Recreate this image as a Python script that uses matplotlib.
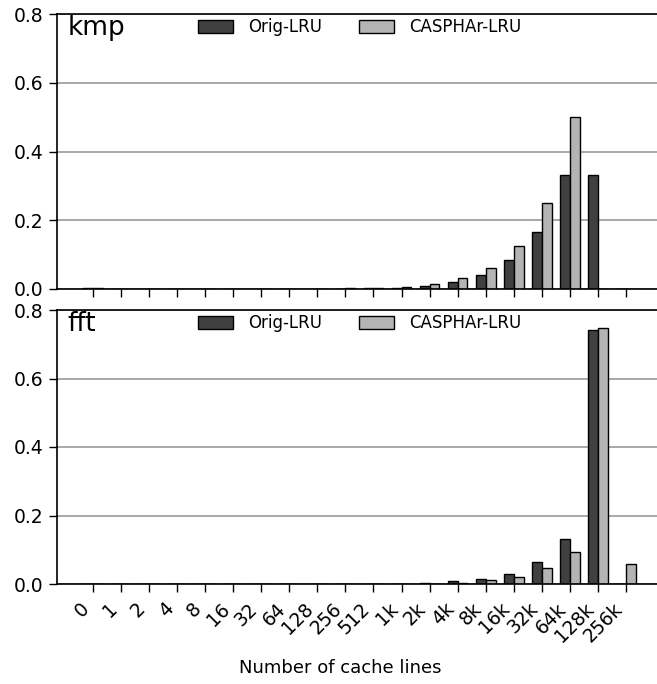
import matplotlib
matplotlib.use('Agg')
import matplotlib.pyplot as plt
import numpy as np

# cache size buckets (x axis)
sizes = ['0', '1', '2', '4', '8', '16', '32', '64', '128', '256', '512',
         '1k', '2k', '4k', '8k', '16k', '32k', '64k', '128k', '256k']

# kmp distribution
kmp_orig = [0.003, 0, 0, 0, 0, 0, 0, 0, 0, 0, 0.003, 0.003, 0.010, 0.021,
            0.041, 0.083, 0.167, 0.333, 0.333, 0]
kmp_casphar = [0.003, 0, 0, 0, 0, 0, 0, 0, 0, 0.002, 0.003, 0.007, 0.016, 0.031,
               0.061, 0.124, 0.25, 0.5, 0, 0]

# fft distribution
fft_orig = [0, 0, 0, 0, 0, 0, 0, 0, 0, 0, 0, 0, 0.004, 0.009,
            0.016, 0.030, 0.065, 0.130, 0.741, 0]
fft_casphar = [0, 0, 0, 0, 0, 0, 0, 0, 0, 0, 0, 0, 0.001, 0.004,
               0.012, 0.021, 0.048, 0.094, 0.748, 0.059]

series_names = ['Orig-LRU', 'CASPHAr-LRU']
colors = ['#404040', '#b4b4b4']

W, H = 657, 684
fig = plt.figure(figsize=(W / 100, H / 100), dpi=100)

left_px, right_px = 57, 690
ax_top = fig.add_axes([left_px / W, (H - 289) / H, (right_px - left_px) / W, 275 / H])
ax_bot = fig.add_axes([left_px / W, (H - 584) / H, (right_px - left_px) / W, 274 / H])

x = np.arange(len(sizes))
width = 0.35


def draw_panel(ax, orig, casphar, name, legend_y):
    ax.set_axisbelow(True)
    ax.yaxis.grid(True, color='#9a9a9a', linewidth=1.2)
    ax.bar(x - width / 2, orig, width, color=colors[0], edgecolor='black',
           linewidth=1, label=series_names[0])
    ax.bar(x + width / 2, casphar, width, color=colors[1], edgecolor='black',
           linewidth=1, label=series_names[1])
    ax.set_xlim(-1.28, 21.28)
    ax.set_ylim(0, 0.8)
    ax.set_yticks([0, 0.2, 0.4, 0.6, 0.8])
    ax.set_yticklabels(['0.0', '0.2', '0.4', '0.6', '0.8'])
    ax.set_xticks(x)
    ax.tick_params(axis='y', labelsize=13.5, length=6, width=1)
    ax.tick_params(axis='x', length=6, width=1, pad=5)
    ax.spines['right'].set_visible(False)
    for s in ['left', 'top', 'bottom']:
        ax.spines[s].set_linewidth(1.2)
    ax.text(0.017, 0.995, name, transform=ax.transAxes, fontsize=19,
            va='top', ha='left')
    ax.legend(loc='center left', bbox_to_anchor=(190 / W, legend_y),
              bbox_transform=fig.transFigure, ncol=2, frameon=False,
              fontsize=12, handlelength=2.1, handleheight=0.8,
              handletextpad=0.9, columnspacing=2.2, borderpad=0)


draw_panel(ax_top, kmp_orig, kmp_casphar, 'kmp', 1 - 27 / H)
ax_top.set_xticklabels([])

draw_panel(ax_bot, fft_orig, fft_casphar, 'fft', 1 - 323 / H)
ax_bot.set_xticklabels(sizes, rotation=45, ha='right', fontsize=13.5)

fig.text(340 / W, 1 - 668 / H, 'Number of cache lines', fontsize=13,
         ha='center', va='center')

fig.savefig('out.png', dpi=100)
